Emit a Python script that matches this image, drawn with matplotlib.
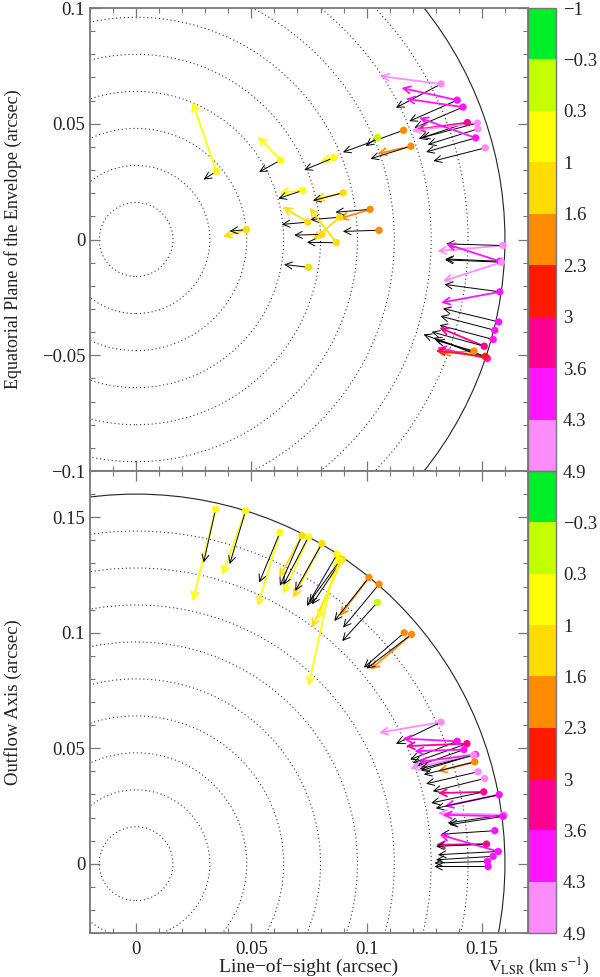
import numpy as np
import matplotlib
matplotlib.use("Agg")
import matplotlib.pyplot as plt
from matplotlib.colors import ListedColormap, BoundaryNorm
from matplotlib.patches import Circle
from matplotlib.cm import ScalarMappable

plt.rcParams['font.family'] = ['Liberation Serif', 'DejaVu Serif']
plt.rcParams['mathtext.fontset'] = 'stix'

# colour scale of V_LSR (km/s)
v_bounds = [-1, -0.3, 0.3, 1, 1.6, 2.3, 3, 3.6, 4.3, 4.9]
v_colors = ['#00ee2a', '#c4ff00', '#ffff00', '#ffdd00', '#ff8c00',
            '#ff1a00', '#ff0090', '#ff14ff', '#ff8cff']

# shells: dotted rings and the outer solid one (arcsec)
ring_radii = [0.016, 0.032, 0.048, 0.064, 0.080, 0.096, 0.112, 0.128, 0.144]
outer_radius = 0.16

# ---- equatorial plane (top panel) ----
eq_x = [0.0348, 0.0627, 0.0857, 0.0723, 0.0898, 0.0745, 0.0883, 0.1015, 0.0806, 0.0869,
        0.0748, 0.0479, 0.1054, 0.1047, 0.1160, 0.1192, 0.1323, 0.1393, 0.1418, 0.1437,
        0.1480, 0.1483, 0.1473, 0.1515, 0.1592, 0.1578, 0.1585, 0.1578, 0.1573, 0.1556,
        0.1549, 0.1510, 0.1466, 0.1524, 0.1515]
eq_y = [0.0295, 0.0343, 0.0353, 0.0212, 0.0202, 0.0075, 0.0096, 0.0130, 0.0022, -0.0014,
        -0.0120, 0.0043, 0.0040, 0.0441, 0.0472, 0.0403, 0.0672, 0.0602, 0.0572, 0.0505,
        0.0503, 0.0478, 0.0439, 0.0396, -0.0026, -0.0094, -0.0098, -0.0226, -0.0356, -0.0392,
        -0.0432, -0.0461, -0.0482, -0.0514, -0.0505]
eq_v = [0.65, 0.65, 0.65, 0.65, 1.3, 1.3, 1.3, 1.95, 1.3, 1.3,
        1.3, 1.3, 1.95, 0.0, 1.95, 1.95, 4.6, 3.95, 3.95, 3.3,
        4.6, 4.6, 3.95, 4.6, 4.6, 3.95, 4.6, 3.95, 3.95, 3.95,
        3.95, 3.3, 1.95, 3.95, 2.65]
# tips of the coloured (observed) arrows, nan = none drawn
eq_cx = [0.0245, 0.0529, 0.0800, 0.0622, 0.0777, 0.0636, 0.0767, 0.0879, np.nan, 0.0752,
         np.nan, 0.0377, np.nan, np.nan, np.nan, 0.1047, 0.1058, 0.1151, 0.1170, 0.1215,
         0.1195, np.nan, 0.1228, np.nan, 0.1306, 0.1345, 0.1331, 0.1323, np.nan, np.nan,
         np.nan, 0.1316, 0.1323, 0.1306, 0.1300]
eq_cy = [0.0592, 0.0445, 0.0338, 0.0202, 0.0173, 0.0141, -0.0003, 0.0089, np.nan, 0.0137,
         np.nan, 0.0012, np.nan, np.nan, np.nan, 0.0370, 0.0706, 0.0655, 0.0608, 0.0475,
         0.0470, np.nan, 0.0526, np.nan, -0.0050, -0.0019, -0.0180, -0.0273, np.nan, np.nan,
         np.nan, -0.0381, -0.0490, -0.0468, -0.0480]
# tips of the black (model) arrows
eq_bx = [0.0293, 0.0534, 0.0729, 0.0617, 0.0767, 0.0632, 0.0755, 0.0865, 0.0686, 0.0741,
         0.0642, 0.0406, 0.0897, 0.0996, 0.0897, 0.1017, 0.1127, 0.1185, 0.1207, 0.1226,
         0.1240, 0.1265, 0.1258, 0.1290, 0.1345, 0.1342, 0.1340, 0.1338, 0.1331, 0.1320,
         0.1316, 0.1282, 0.1301, 0.1247, 0.1290]
eq_by = [0.0259, 0.0292, 0.0300, 0.0177, 0.0168, 0.0065, 0.0086, 0.0118, 0.0019, -0.0012,
         -0.0108, 0.0036, 0.0035, 0.0403, 0.0377, 0.0349, 0.0569, 0.0511, 0.0482, 0.0435,
         0.0440, 0.0410, 0.0378, 0.0339, -0.0019, -0.0084, -0.0088, -0.0194, -0.0298, -0.0331,
         -0.0370, -0.0399, -0.0436, -0.0410, -0.0425]

# ---- outflow axis (bottom panel) ----
of_x = [0.0345, 0.0475, 0.0624, 0.0719, 0.0748, 0.0806, 0.0872, 0.0894, 0.0883,
        0.1010, 0.1054, 0.1047, 0.1163, 0.1195,
        0.1323, 0.1393, 0.1435, 0.1422, 0.1472, 0.1465, 0.1469, 0.1483, 0.1512, 0.1508,
        0.1575, 0.1597, 0.1592, 0.1556, 0.1520, 0.1571, 0.1549, 0.1524, 0.1527]
of_y = [0.1535, 0.1528, 0.1434, 0.1420, 0.1415, 0.1386, 0.1340, 0.1318, 0.1311,
        0.1239, 0.1210, 0.1131, 0.1000, 0.0993,
        0.0613, 0.0530, 0.0520, 0.0494, 0.0473, 0.0470, 0.0441, 0.0398, 0.0369, 0.0311,
        0.0299, 0.0212, 0.0205, 0.0143, 0.0085, 0.0053, 0.0032, 0.0010, -0.0012]
of_v = [0.65, 0.65, 0.65, 1.3, 0.65, 1.3, 0.65, 1.3, 0.65,
        1.95, 1.95, 0.0, 1.95, 1.95,
        4.6, 3.95, 3.3, 3.95, 3.95, 4.6, 1.95, 4.6, 4.6, 3.3,
        3.95, 4.6, 3.95, 3.95, 3.3, 3.95, 3.95, 3.95, 3.95]
of_cx = [0.0246, 0.0374, 0.0527, 0.0621, 0.0639, 0.0680, 0.0748, 0.0763, 0.0790,
         0.0883, np.nan, np.nan, np.nan, 0.1017,
         0.1054, 0.1156, 0.1170, 0.1207, 0.1225, 0.1189, 0.1309, np.nan, np.nan, 0.1309,
         0.1338, 0.1309, 0.1330, np.nan, 0.1301, 0.1316, np.nan, np.nan, np.nan]
of_cy = [0.1138, 0.1250, 0.1116, 0.1239, 0.1169, 0.1150, 0.0769, 0.1022, 0.1060,
         0.1072, np.nan, np.nan, np.nan, 0.0841,
         0.0567, 0.0542, 0.0509, 0.0487, 0.0440, 0.0412, 0.0400, np.nan, np.nan, 0.0306,
         0.0249, 0.0219, 0.0212, np.nan, 0.0082, 0.0126, np.nan, np.nan, np.nan]
of_bx = [0.0293, 0.0406, 0.0534, 0.0624, 0.0639, 0.0690, 0.0741, 0.0763, 0.0750,
         0.0860, 0.0898, 0.0894, 0.0988, 0.1000,
         0.1127, 0.1189, 0.1200, 0.1218, 0.1236, 0.1230, 0.1248, 0.1258, 0.1287, 0.1280,
         0.1300, 0.1352, 0.1359, 0.1323, 0.1301, 0.1309, 0.1301, 0.1294, 0.1294]
of_by = [0.1304, 0.1297, 0.1217, 0.1203, 0.1207, 0.1181, 0.1116, 0.1123, 0.1130,
         0.1051, 0.1022, 0.0964, 0.0849, 0.0845,
         0.0519, 0.0451, 0.0436, 0.0422, 0.0403, 0.0410, 0.0386, 0.0346, 0.0314, 0.0263,
         0.0240, 0.0176, 0.0169, 0.0128, 0.0075, 0.0039, 0.0017, 0.0003, -0.0012]

x_ticks = [0, 0.05, 0.1, 0.15]
x_ticklabels = ['0', '0.05', '0.1', '0.15']
eq_yticks = [-0.1, -0.05, 0, 0.05, 0.1]
eq_yticklabels = ['\u22120.1', '\u22120.05', '0', '0.05', '0.1']
of_yticks = [0, 0.05, 0.1, 0.15]
of_yticklabels = ['0', '0.05', '0.1', '0.15']
cbar_labels_top = ['\u22121', '\u22120.3', '0.3', '1', '1.6', '2.3', '3', '3.6', '4.3', '4.9']
cbar_labels_bot = ['', '\u22120.3', '0.3', '1', '1.6', '2.3', '3', '3.6', '4.3', '4.9']

cmap = ListedColormap(v_colors)
norm = BoundaryNorm(v_bounds, cmap.N)
txt = '#222222'
frame = '#777777'
fs = 13.5


def draw_panel(ax, x, y, v, cx, cy, bx, by):
    for r in ring_radii:
        ax.add_patch(Circle((0, 0), r, fill=False, ec='#333333', lw=0.8,
                            ls=(0, (1, 2.5))))
    ax.add_patch(Circle((0, 0), outer_radius, fill=False, ec='#222222', lw=0.8))
    for i in range(len(x)):
        col = cmap(norm(v[i]))
        if not np.isnan(cx[i]):
            ax.annotate('', xy=(cx[i], cy[i]), xytext=(x[i], y[i]),
                        arrowprops=dict(arrowstyle='->,head_length=0.5,head_width=0.25',
                                        color=col, lw=1.3, shrinkA=0, shrinkB=0))
        ax.annotate('', xy=(bx[i], by[i]), xytext=(x[i], y[i]),
                    arrowprops=dict(arrowstyle='->,head_length=0.5,head_width=0.25',
                                    color='black', lw=0.7, shrinkA=0, shrinkB=0))
    ax.scatter(x, y, c=[cmap(norm(val)) for val in v], s=28, zorder=5, lw=0)
    ax.set_xlim(-0.02, 0.17)
    ax.xaxis.set_minor_locator(matplotlib.ticker.MultipleLocator(0.01))
    ax.yaxis.set_minor_locator(matplotlib.ticker.MultipleLocator(0.01))
    ax.tick_params(which='both', direction='in', top=True, right=True,
                   colors=frame, labelcolor=txt, labelsize=fs)
    ax.tick_params(which='major', length=7, width=0.9)
    ax.tick_params(which='minor', length=3.5, width=0.8)
    ax.tick_params(axis='x', pad=6)
    for s in ax.spines.values():
        s.set_color(frame)
        s.set_linewidth(1.3)


def draw_cbar(cax, labels):
    cb = plt.colorbar(ScalarMappable(norm=norm, cmap=cmap), cax=cax,
                      boundaries=v_bounds, ticks=v_bounds, drawedges=True)
    cax.invert_yaxis()
    cb.set_ticklabels(labels)
    cb.outline.set_edgecolor(frame)
    cb.outline.set_linewidth(1.0)
    cb.dividers.set_color('#222222')
    cb.dividers.set_linewidth(0.8)
    cax.tick_params(length=0, pad=5, labelsize=fs, labelcolor=txt)


fig = plt.figure(figsize=(6, 9.77), dpi=100)
ax1 = fig.add_axes([0.15, 0.5179, 0.73, 0.4739])
ax2 = fig.add_axes([0.15, 0.0450, 0.73, 0.4729])
cax1 = fig.add_axes([0.88, 0.5179, 0.0467, 0.4739])
cax2 = fig.add_axes([0.88, 0.0450, 0.0467, 0.4729])

draw_panel(ax1, eq_x, eq_y, eq_v, eq_cx, eq_cy, eq_bx, eq_by)
ax1.set_ylim(-0.1, 0.1)
ax1.set_yticks(eq_yticks, eq_yticklabels)
ax1.set_xticks(x_ticks, [])
ax1.set_ylabel('Equatorial Plane of the Envelope (arcsec)', fontsize=13, color=txt,
               va='center')
ax1.yaxis.set_label_coords(-0.176, 0.5)

draw_panel(ax2, of_x, of_y, of_v, of_cx, of_cy, of_bx, of_by)
ax2.set_ylim(-0.03, 0.17)
ax2.set_yticks(of_yticks, of_yticklabels)
ax2.set_xticks(x_ticks, x_ticklabels)
ax2.set_ylabel('Outflow Axis (arcsec)', fontsize=13.5, color=txt, va='center')
ax2.yaxis.set_label_coords(-0.176, 0.5)
ax2.set_xlabel('Line\u2212of\u2212sight (arcsec)', fontsize=14, color=txt, va='center')
ax2.xaxis.set_label_coords(0.5, -0.074)

draw_cbar(cax1, cbar_labels_top)
draw_cbar(cax2, cbar_labels_bot)
fig.text(0.898, 1 - 967 / 977, 'V$_{\\mathrm{LSR}}$ (km s$^{-1}$)', ha='center',
         va='center', fontsize=12.5, color=txt)

fig.savefig('out.png', dpi=100)
